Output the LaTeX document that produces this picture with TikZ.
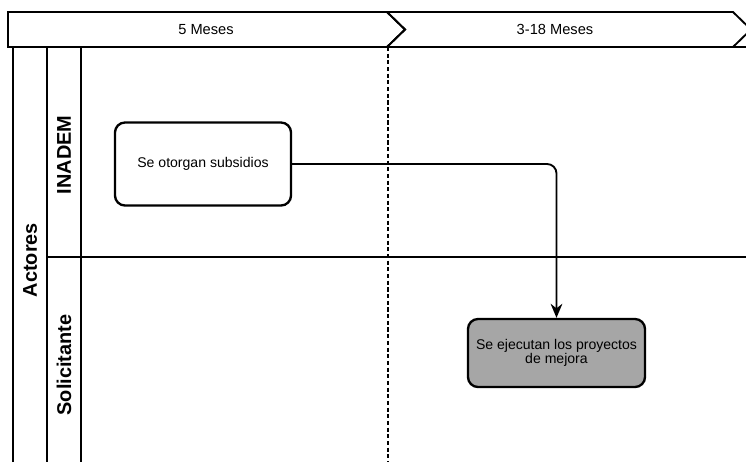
\documentclass[tikz,border=0pt]{standalone}
\usepackage{fontspec}
\setmainfont{Liberation Sans}
\usetikzlibrary{arrows.meta,positioning}

\begin{document}
\begin{tikzpicture}[x=0.03cm, y=-0.03cm,
        linea/.style={line width=1.8pt},
        etapa/.style={draw, line width=1.6pt, line join=miter},
        actividad/.style={draw, rectangle, rounded corners=8.5pt, line width=2pt, align=center,
            font=\fontsize{12}{12.5}\selectfont},
        carril/.style={rotate=90, font=\fontsize{17}{20}\selectfont\bfseries}]
    \clip (0,0) rectangle (746,462);

    % fases (cabecera)
    \draw [etapa] (8,12) -- (387,12) -- (405,29.5) -- (387,47) -- (8,47) -- cycle;
    \draw [etapa] (387,12) -- (733,12) -- (751,29.5) -- (733,47) -- (387,47) -- (405,29.5) -- cycle;
    \node [font=\fontsize{12.5}{14}\selectfont] (fase1) at (206,29.5) {5 Meses};
    \node [font=\fontsize{12.5}{14}\selectfont] (fase2) at (555,29.5) {3-18 Meses};

    % carriles
    \draw [linea] (13,462) -- (13,47) -- (750,47);
    \draw [linea] (47,47) -- (47,462);
    \draw [linea] (81,47) -- (81,462);
    \draw [linea] (47,257) -- (750,257);
    \draw [line width=2pt, dash pattern=on 3.5pt off 2.2pt] (388,47) -- (388,462);

    \node [carril] (actores) at (30,260) {Actores};
    \node [carril] (inadem) at (64,155) {INADEM};
    \node [carril] (solicitante) at (64,365) {Solicitante};

    % actividades
    \node [actividad, minimum width=5.28cm, minimum height=2.49cm] (subsidios) at (203,164) {Se otorgan subsidios};
    \node [actividad, fill=black!35, minimum width=5.31cm, minimum height=2.04cm] (proyectos) at (556.5,353)
        {Se ejecutan los proyectos\\de mejora};

    \draw [-{Stealth[length=12pt,width=10pt]}, line width=1.6pt, rounded corners=8pt] (subsidios.east) -| (proyectos.north);
\end{tikzpicture}
\end{document}
